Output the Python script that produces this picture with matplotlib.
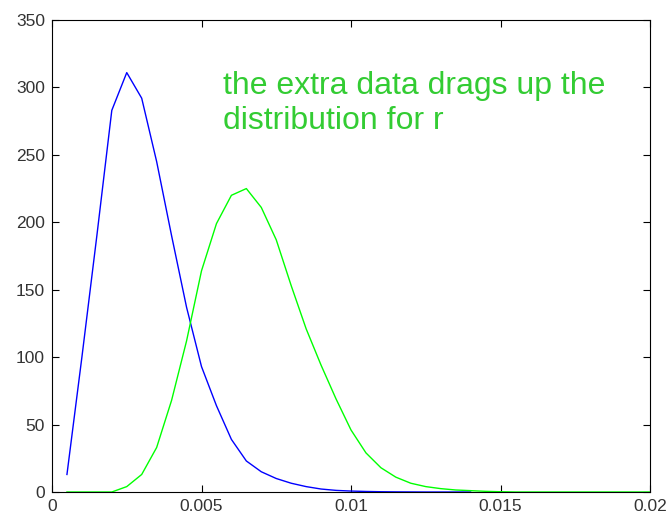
import numpy as np
import matplotlib.pyplot as plt

plt.rcParams['font.family'] = ['Liberation Sans', 'DejaVu Sans']

# posterior-like curves (grid step 0.0005)
x_blue = [0.0005, 0.001, 0.0015, 0.002, 0.0025, 0.003, 0.0035, 0.004, 0.0045,
          0.005, 0.0055, 0.006, 0.0065, 0.007, 0.0075, 0.008, 0.0085, 0.009,
          0.0095, 0.01, 0.0105, 0.011, 0.0115, 0.012, 0.0125, 0.013, 0.0135, 0.014]
y_blue = [13, 100, 190, 283, 311, 292, 245, 190, 137,
          93, 64, 39, 23, 15, 10, 6.5, 4, 2.2,
          1.2, 0.7, 0.4, 0.2, 0.1, 0.05, 0, 0, 0, 0]

x_green = [0.0005, 0.001, 0.0015, 0.002, 0.0025, 0.003, 0.0035, 0.004, 0.0045,
           0.005, 0.0055, 0.006, 0.0065, 0.007, 0.0075, 0.008, 0.0085, 0.009,
           0.0095, 0.01, 0.0105, 0.011, 0.0115, 0.012, 0.0125, 0.013, 0.0135,
           0.014, 0.0145, 0.015, 0.0155, 0.016, 0.0165, 0.017, 0.0175, 0.018,
           0.0185, 0.019, 0.0195, 0.02]
y_green = [0, 0, 0, 0, 4, 13, 33, 68, 112,
           164, 199, 220, 225, 211, 187, 153, 121, 94,
           69, 46, 29, 18, 11, 6.5, 4, 2.5, 1.5,
           1, 0.5, 0.2, 0, 0, 0, 0, 0, 0,
           0, 0, 0, 0]

xticks = [0, 0.005, 0.01, 0.015, 0.02]
xlabels = ['0', '0.005', '0.01', '0.015', '0.02']
yticks = [0, 50, 100, 150, 200, 250, 300, 350]

fig = plt.figure(figsize=(6.68, 5.15), dpi=100)
ax = fig.add_axes([52 / 668, 1 - 492 / 515, 598 / 668, 472 / 515])

ax.plot(x_blue, y_blue, color='#0000ff', lw=1.0)
ax.plot(x_green, y_green, color='#00ff00', lw=1.0)

ax.set_xlim(0, 0.02)
ax.set_ylim(0, 350)
ax.set_xticks(xticks)
ax.set_xticklabels(xlabels)
ax.set_yticks(yticks)
ax.tick_params(direction='in', top=True, right=True, length=5, width=0.8,
               labelsize=12.5, labelcolor='#333333')
ax.tick_params(axis='x', pad=5)
ax.tick_params(axis='y', pad=5)
for s in ax.spines.values():
    s.set_linewidth(0.8)

fig.text(223 / 668, 1 - 129 / 515, 'the extra data drags up the\ndistribution for r',
         color='#33cc33', fontsize=23, ha='left', va='baseline', linespacing=1.22)

fig.savefig('out.png', dpi=100)
